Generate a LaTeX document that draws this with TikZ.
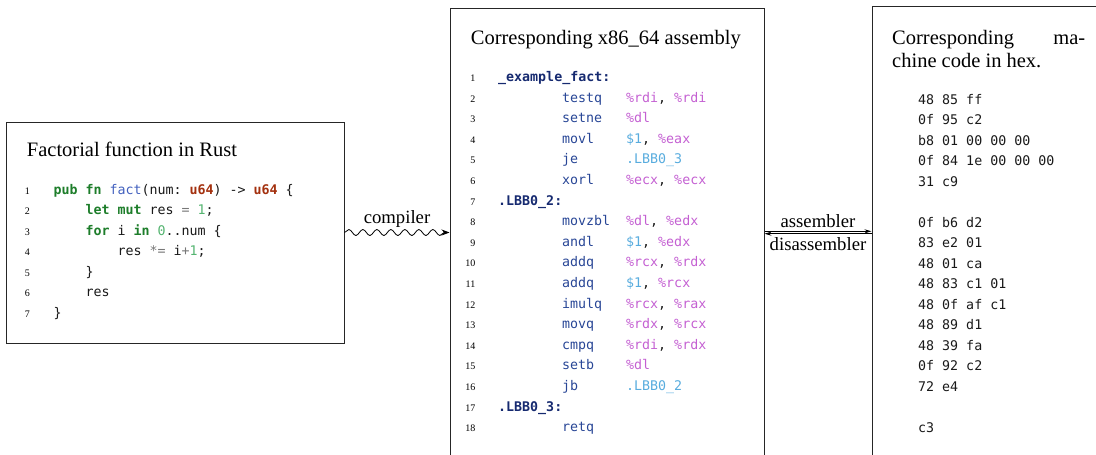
\documentclass[tikz,border=0pt]{standalone}
\usepackage{fontspec}
\setmainfont{Liberation Serif}
\setmonofont{DejaVu Sans Mono}
\usetikzlibrary{arrows.meta,decorations.pathmorphing}
\definecolor{rskw}{RGB}{29,125,42}
\definecolor{rsty}{RGB}{163,48,14}
\definecolor{rsfn}{RGB}{66,96,190}
\definecolor{rsnum}{RGB}{84,180,112}
\definecolor{rsop}{RGB}{120,120,120}
\definecolor{asmlab}{RGB}{22,42,112}
\definecolor{asmins}{RGB}{40,70,150}
\definecolor{asmreg}{RGB}{196,96,210}
\definecolor{asmimm}{RGB}{88,172,222}
\newcommand{\rkw}[1]{\textcolor{rskw}{\textbf{#1}}}
\newcommand{\rty}[1]{\textcolor{rsty}{\textbf{#1}}}
\newcommand{\rfn}[1]{\textcolor{rsfn}{#1}}
\newcommand{\rnum}[1]{\textcolor{rsnum}{#1}}
\newcommand{\rop}[1]{\textcolor{rsop}{#1}}
\newcommand{\alab}[1]{\textcolor{asmlab}{\textbf{#1}}}
\newcommand{\areg}[1]{\textcolor{asmreg}{#1}}
\newcommand{\aimm}[1]{\textcolor{asmimm}{#1}}
\newcommand{\ains}[2]{\makebox[64pt][l]{\textcolor{asmins}{#1}}#2}

\begin{document}
\begin{tikzpicture}[x=1pt, y=-1pt,
    box/.style={draw=black!85, line width=1pt, inner sep=0pt},
    title/.style={anchor=base west, inner sep=0pt, font=\fontsize{20.5}{23}\selectfont},
    lineno/.style={anchor=base east, inner sep=0pt, font=\fontsize{10}{12}\selectfont},
    code/.style={anchor=base west, inner sep=0pt, text=black!90, font=\ttfamily\fontsize{13.3}{16}\selectfont},
    edgelabel/.style={font=\fontsize{18.7}{21}\selectfont, inner sep=2pt}]
    \useasboundingbox (0,0) rectangle (1096,455);
    \clip (0,0) rectangle (1096,455);

    % the three boxes
    \node[box, minimum width=338pt, minimum height=221pt] (rust) at (175,232.5) {};
    \node[box, minimum width=314pt, minimum height=462pt] (asm) at (607,239) {};
    \node[box, minimum width=234pt, minimum height=464pt] (hex) at (989,238) {};

    % rust source
    \node[title] (rusttitle) at (26.7,156.7) {Factorial function in Rust};
    \foreach \n/\ind/\txt in {
        1/0/{\rkw{pub} \rkw{fn} \rfn{fact}(num: \rty{u64}) -> \rty{u64} \{},
        2/1/{\rkw{let} \rkw{mut} res \rop{=} \rnum{1};},
        3/1/{\rkw{for} i \rkw{in} \rnum{0}..num \{},
        4/2/{res \rop{*=} i\rop{+}\rnum{1};},
        5/1/{\}},
        6/1/{res},
        7/0/{\}}} {
        \node[lineno] (rn\n) at (30,{194.3+(\n-1)*20.5}) {\n};
        \node[code] (rl\n) at ({53.3+\ind*32},{194.3+(\n-1)*20.5}) {\txt};
    }

    % assembly
    \node[title] (asmtitle) at (470.7,44.3) {Corresponding x86\_64 assembly};
    \foreach \n/\x/\txt in {
        1/498/{\alab{\_example\_fact:}},
        2/562/{\ains{testq}{\areg{\%rdi}, \areg{\%rdi}}},
        3/562/{\ains{setne}{\areg{\%dl}}},
        4/562/{\ains{movl}{\aimm{\$1}, \areg{\%eax}}},
        5/562/{\ains{je}{\aimm{.LBB0\_3}}},
        6/562/{\ains{xorl}{\areg{\%ecx}, \areg{\%ecx}}},
        7/498/{\alab{.LBB0\_2:}},
        8/562/{\ains{movzbl}{\areg{\%dl}, \areg{\%edx}}},
        9/562/{\ains{andl}{\aimm{\$1}, \areg{\%edx}}},
        10/562/{\ains{addq}{\areg{\%rcx}, \areg{\%rdx}}},
        11/562/{\ains{addq}{\aimm{\$1}, \areg{\%rcx}}},
        12/562/{\ains{imulq}{\areg{\%rcx}, \areg{\%rax}}},
        13/562/{\ains{movq}{\areg{\%rdx}, \areg{\%rcx}}},
        14/562/{\ains{cmpq}{\areg{\%rdi}, \areg{\%rdx}}},
        15/562/{\ains{setb}{\areg{\%dl}}},
        16/562/{\ains{jb}{\aimm{.LBB0\_2}}},
        17/498/{\alab{.LBB0\_3:}},
        18/562/{\ains{retq}{}}} {
        \node[lineno] (an\n) at (475.5,{81.5+(\n-1)*20.6}) {\n};
        \node[code] (al\n) at (\x,{81.5+(\n-1)*20.6}) {\txt};
    }

    % machine code
    \node[title, text width=193pt, align=justify] (hextitle) at (892,45)
        {Corresponding ma-\linebreak chine code in hex.};
    \foreach \n/\txt in {1/48 85 ff, 2/0f 95 c2, 3/b8 01 00 00 00, 4/0f 84 1e 00 00 00,
        5/31 c9, 7/0f b6 d2, 8/83 e2 01, 9/48 01 ca, 10/48 83 c1 01, 11/48 0f af c1,
        12/48 89 d1, 13/48 39 fa, 14/0f 92 c2, 15/72 e4, 17/c3} {
        \node[code] (hl\n) at (918,{104+(\n-1)*20.5}) {\txt};
    }

    % connectors
    \draw[line width=0.8pt, -{Stealth[length=8pt, width=6pt]},
        decorate, decoration={snake, amplitude=3pt, segment length=14pt, post length=5pt}]
        (rust.east) -- node[edgelabel, above=3pt] {compiler} (rust.east -| asm.west);
    \draw[line width=0.7pt, -{Stealth[length=7pt, width=4pt]}]
        ([yshift=1.2pt]rust.east -| asm.east) -- node[edgelabel, above=1pt] {assembler}
        ([yshift=1.2pt]rust.east -| hex.west);
    \draw[line width=0.7pt, -{Stealth[length=7pt, width=4pt]}]
        ([yshift=-1.2pt]rust.east -| hex.west) -- node[edgelabel, below=1pt] {disassembler}
        ([yshift=-1.2pt]rust.east -| asm.east);
\end{tikzpicture}
\end{document}
